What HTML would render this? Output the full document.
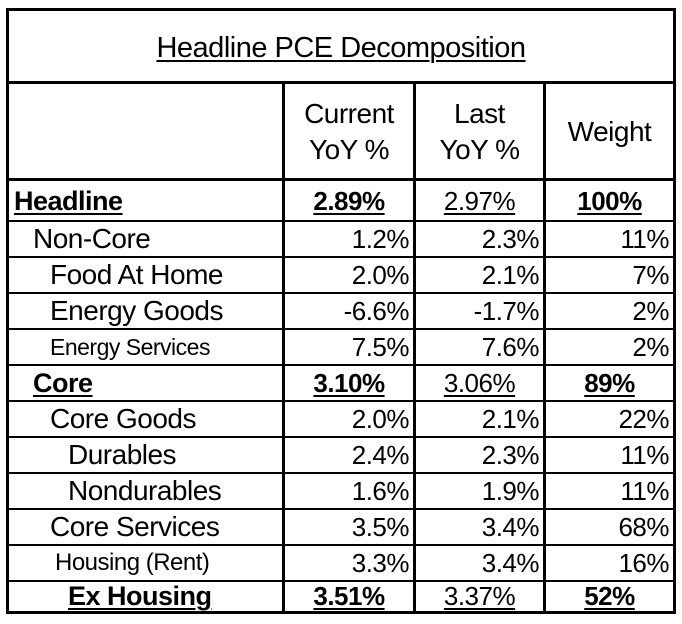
<!DOCTYPE html>
<html><head><meta charset="utf-8"><style>
body{margin:0;width:682px;height:624px;background:#fff;position:relative;font-family:"Liberation Sans",sans-serif;color:#000;overflow:hidden}
.h{position:absolute;background:#000}
.t{position:absolute;white-space:nowrap;font-size:26px;line-height:36px;letter-spacing:-0.5px}
.r{text-align:right}
.c{text-align:center}
u{text-decoration:underline;text-decoration-thickness:2px;text-underline-offset:3px}
b{font-weight:bold}
</style></head><body>
<div class="h" style="left:6px;top:8px;width:670px;height:3px"></div>
<div class="h" style="left:6px;top:611px;width:670px;height:3px"></div>
<div class="h" style="left:6px;top:8px;width:3px;height:606px"></div>
<div class="h" style="left:673px;top:8px;width:3px;height:606px"></div>
<div class="h" style="left:6px;top:81px;width:670px;height:3px"></div>
<div class="h" style="left:6px;top:178px;width:670px;height:3px"></div>
<div class="h" style="left:282px;top:81px;width:3px;height:533px"></div>
<div class="h" style="left:413px;top:81px;width:3px;height:533px"></div>
<div class="h" style="left:543px;top:81px;width:3px;height:533px"></div>
<div class="h" style="left:6px;top:220px;width:670px;height:2px"></div>
<div class="h" style="left:6px;top:256px;width:670px;height:2px"></div>
<div class="h" style="left:6px;top:292px;width:670px;height:2px"></div>
<div class="h" style="left:6px;top:328px;width:670px;height:2px"></div>
<div class="h" style="left:6px;top:364px;width:670px;height:2px"></div>
<div class="h" style="left:6px;top:400px;width:670px;height:2px"></div>
<div class="h" style="left:6px;top:436px;width:670px;height:2px"></div>
<div class="h" style="left:6px;top:472px;width:670px;height:2px"></div>
<div class="h" style="left:6px;top:508px;width:670px;height:2px"></div>
<div class="h" style="left:6px;top:544px;width:670px;height:2px"></div>
<div class="h" style="left:6px;top:580px;width:670px;height:2px"></div>

<div class="t c" style="left:6px;width:670px;top:28px;font-size:29px;line-height:40px"><u>Headline PCE Decomposition</u></div>
<div class="t c" style="left:285px;width:128px;top:96px;line-height:36px;font-size:28px">Current<br>YoY %</div>
<div class="t c" style="left:416px;width:127px;top:96px;line-height:36px;font-size:28px">Last<br>YoY %</div>
<div class="t c" style="left:546px;width:127px;top:114px;font-size:28px">Weight</div>

<div id="rows"></div>
<script>
var rows=[
["Headline",14,27,1,"2.89%","2.97%","100%",[1,0,1]],
["Non-Core",33,28,0,"1.2%","2.3%","11%"],
["Food At Home",50,28,0,"2.0%","2.1%","7%"],
["Energy Goods",50,28,0,"-6.6%","-1.7%","2%"],
["Energy Services",50,23,0,"7.5%","7.6%","2%"],
["Core",33,27,1,"3.10%","3.06%","89%",[1,0,1]],
["Core Goods",50,28,0,"2.0%","2.1%","22%"],
["Durables",68,28,0,"2.4%","2.3%","11%"],
["Nondurables",68,28,0,"1.6%","1.9%","11%"],
["Core Services",50,28,0,"3.5%","3.4%","68%"],
["Housing (Rent)",55,24,0,"3.3%","3.4%","16%"],
["Ex Housing",68,27,1,"3.51%","3.37%","52%",[1,0,1]]];
var h="",tops=[182,221,257,293,329,365,401,437,473,509,545,581];
rows.forEach(function(r,i){
 var y=tops[i]+(i==0?1:0)-(i==11?3:0);
 var lab=r[3]?"<u><b>"+r[0]+"</b></u>":r[0];
 h+='<div class="t" style="left:'+r[1]+'px;top:'+y+'px;font-size:'+r[2]+'px">'+lab+'</div>';
 var cols=[[285,128],[416,127],[546,127]];
 for(var k=0;k<3;k++){
  var v=r[4+k];
  if(r[3]){v=(r[7][k]?"<b>"+v+"</b>":v);v="<u>"+v+"</u>";
   h+='<div class="t c" style="left:'+cols[k][0]+'px;width:'+cols[k][1]+'px;top:'+y+'px;font-size:26px">'+v+'</div>';}
  else h+='<div class="t r" style="left:'+cols[k][0]+'px;width:'+(cols[k][1]-4)+'px;top:'+y+'px">'+v+'</div>';
 }
});
document.getElementById("rows").innerHTML=h;
</script>
</body></html>
